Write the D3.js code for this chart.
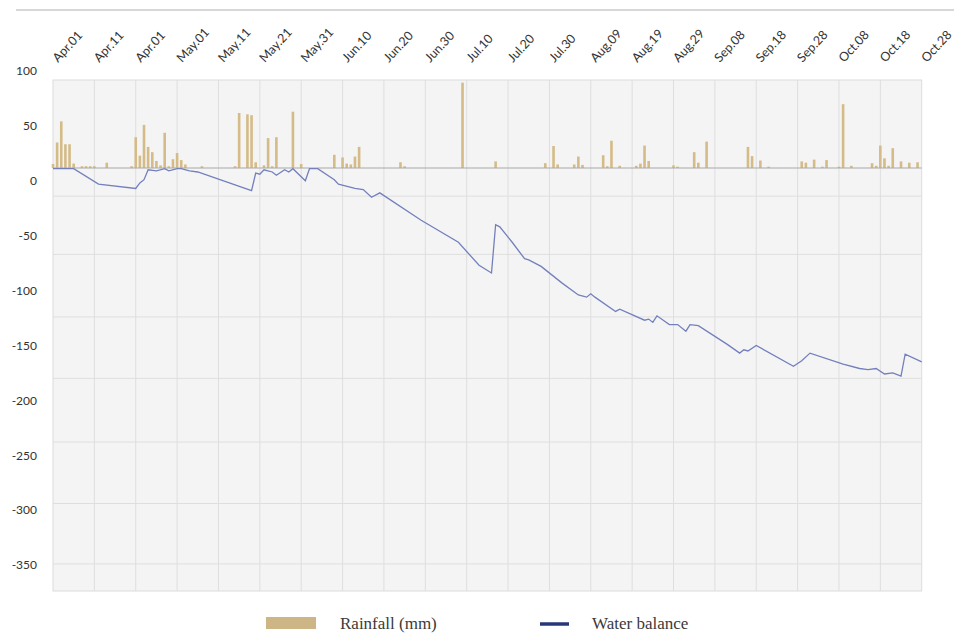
<!DOCTYPE html>
<html>
<head>
<meta charset="utf-8">
<script src="https://cdn.jsdelivr.net/npm/d3@7"></script>
<style>
  body { margin: 0; background: #fff; }
  svg { display: block; }
</style>
</head>
<body>
<svg id="chart" width="954" height="635"></svg>
<script>
// tick labels as printed on the chart (the third one really says Apr.01)
const xLabels = ["Apr.01", "Apr.11", "Apr.01", "May.01", "May.11", "May.21", "May.31",
  "Jun.10", "Jun.20", "Jun.30", "Jul.10", "Jul.20", "Jul.30", "Aug.09", "Aug.19",
  "Aug.29", "Sep.08", "Sep.18", "Sep.28", "Oct.08", "Oct.18", "Oct.28"];
const yTicks = [100, 50, 0, -50, -100, -150, -200, -250, -300, -350];
const gridValues = [-14, -67, -124, -180, -238, -294, -349];

// rainfall: day offset from Apr 01, mm
const rainDays = [0, 1, 2, 3, 4, 5, 7, 8, 9, 10, 13, 19, 20, 21, 22, 23, 24, 25, 26, 27, 28, 29, 30, 31, 32,
  36, 44, 45, 47, 48, 49, 51, 52, 53, 54, 58, 60, 68, 70, 71, 72, 73, 74, 84, 85, 99,
  107, 119, 121, 122, 126, 127, 128, 133, 134, 135, 137, 141, 142, 143, 144, 150, 151,
  155, 156, 158, 168, 169, 171, 173, 181, 182, 184, 186, 187, 190, 191, 193,
  198, 199, 200, 201, 202, 203, 205, 207, 209];
const rainMm = [4.5, 29, 53, 27, 27, 5, 2, 2, 2, 2, 6, 2, 35, 14, 49, 24, 18, 8, 3, 40, 2, 10, 17, 9, 4,
  2, 2, 62.5, 61, 60, 6.5, 3, 34, 2, 35, 64, 4.5, 15, 12, 5, 4, 13, 24, 6.5, 2, 97,
  7.5, 5.5, 25, 4, 4, 13, 3.5, 14.5, 2, 31, 2.5, 2.5, 5, 25.5, 8, 3, 1.5,
  18, 6, 30, 24, 13.5, 8.5, 1.5, 7.5, 6, 9.5, 1.5, 9, 1.5, 72.5, 2.5,
  5.5, 2.5, 25.5, 11, 2.5, 22.5, 7.5, 6, 6.5];

// water balance: day offset from Apr 01, value
const balanceDays = [0, 5, 11, 20, 21, 22, 23, 25, 27, 28, 30, 31, 33, 35, 48, 49, 50, 51, 53, 54,
  56, 57, 58, 61, 62, 64, 68, 69, 73, 75, 77, 79, 89, 98, 103, 106, 107, 108, 111, 114,
  115, 118, 123, 127, 129, 130, 131, 136, 137, 143, 144, 145, 146, 149, 151, 153, 154,
  156, 163, 166, 167, 168, 170, 179, 181, 183, 191, 195, 197, 199, 201, 203, 205, 206, 210];
const balanceValues = [11, 11, -3, -7, -2, 1, 10, 9, 11, 9, 11, 11, 9, 8, -9, 7, 6, 10, 8, 5,
  10, 8, 11, 0, 11, 11, 1, -3, -7, -8, -15, -11, -36, -56, -77, -84, -40, -42, -56, -71,
  -72, -78, -93, -104, -106, -103, -106, -119, -117, -127, -126, -129, -123, -131, -131, -137, -131,
  -132, -149, -157, -154, -155, -150, -169, -164, -157, -167, -171, -172, -171, -176, -175, -178, -158, -165];

const start = new Date(2021, 3, 1);
const dayToDate = d => d3.timeDay.offset(start, d);

const svg = d3.select("#chart");
const plotLeft = 53, plotRight = 921.7, plotTop = 80, plotBottom = 591;

const x = d3.scaleTime()
  .domain([start, dayToDate(210)])
  .range([plotLeft, plotRight]);

// axis labels sit on their own scale, offset from the grid
const y = d3.scaleLinear().domain([-350, 100]).range([565, 71]);
const yRain = d3.scaleLinear().domain([0, 100]).range([168, 80]);

const tickDates = xLabels.map((l, i) => dayToDate(i * 10));

// top rule
svg.append("line")
  .attr("x1", 16).attr("x2", 954).attr("y1", 10).attr("y2", 10)
  .attr("stroke", "#b0b0b0").attr("stroke-width", 1);

// plot background
svg.append("rect")
  .attr("x", plotLeft).attr("y", plotTop)
  .attr("width", plotRight - plotLeft).attr("height", plotBottom - plotTop)
  .attr("fill", "#f4f4f4").attr("stroke", "#dcdcdc");

svg.append("g").selectAll("line")
  .data(tickDates.slice(1, -1))
  .join("line")
  .attr("x1", d => x(d)).attr("x2", d => x(d))
  .attr("y1", plotTop).attr("y2", plotBottom)
  .attr("stroke", "#dedede");

svg.append("g").selectAll("line")
  .data(gridValues)
  .join("line")
  .attr("x1", plotLeft).attr("x2", plotRight)
  .attr("y1", d => y(d)).attr("y2", d => y(d))
  .attr("stroke", "#dedede");

// y labels (plain hyphen, like the original)
const yAxis = svg.append("g")
  .attr("transform", `translate(${plotLeft},0)`)
  .call(d3.axisLeft(y).tickValues(yTicks).tickSize(0).tickPadding(16).tickFormat(d => String(d)));
yAxis.select(".domain").remove();
yAxis.selectAll("text")
  .attr("font-family", "Lato, 'Open Sans', sans-serif")
  .attr("font-size", 12)
  .attr("fill", "#333");

// x labels, rotated
svg.append("g").selectAll("text")
  .data(tickDates)
  .join("text")
  .attr("transform", d => `translate(${x(d) + 5},63) rotate(-47)`)
  .attr("font-family", "Lato, 'Open Sans', sans-serif")
  .attr("font-size", 12.5)
  .attr("fill", "#333")
  .text((d, i) => xLabels[i]);

// rainfall bars
const barW = 2.6;
svg.append("g").selectAll("rect")
  .data(rainDays.map((d, i) => ({ date: dayToDate(d), mm: rainMm[i] })))
  .join("rect")
  .attr("x", d => x(d.date) - barW / 2)
  .attr("y", d => yRain(d.mm))
  .attr("width", barW)
  .attr("height", d => yRain(0) - yRain(d.mm))
  .attr("fill", "#d4bb88");

// rainfall baseline
svg.append("line")
  .attr("x1", plotLeft).attr("x2", plotRight)
  .attr("y1", yRain(0)).attr("y2", yRain(0))
  .attr("stroke", "#a8a8a8").attr("stroke-width", 1);

// water balance line
const line = d3.line()
  .x(d => x(d.date))
  .y(d => y(d.v));

svg.append("path")
  .datum(balanceDays.map((d, i) => ({ date: dayToDate(d), v: balanceValues[i] })))
  .attr("d", line)
  .attr("fill", "none")
  .attr("stroke", "#7380bd")
  .attr("stroke-width", 1.3);

// legend
const legend = svg.append("g")
  .attr("font-family", "'Liberation Serif', 'Times New Roman', serif")
  .attr("font-size", 17)
  .attr("fill", "#3a3a3a");

legend.append("rect")
  .attr("x", 266).attr("y", 617).attr("width", 50).attr("height", 12)
  .attr("fill", "#cdb585");
legend.append("text").attr("x", 340).attr("y", 629).text("Rainfall (mm)");

legend.append("line")
  .attr("x1", 540).attr("x2", 569).attr("y1", 624).attr("y2", 624)
  .attr("stroke", "#27387a").attr("stroke-width", 3.5);
legend.append("text").attr("x", 592).attr("y", 629).text("Water balance");
</script>
</body>
</html>
